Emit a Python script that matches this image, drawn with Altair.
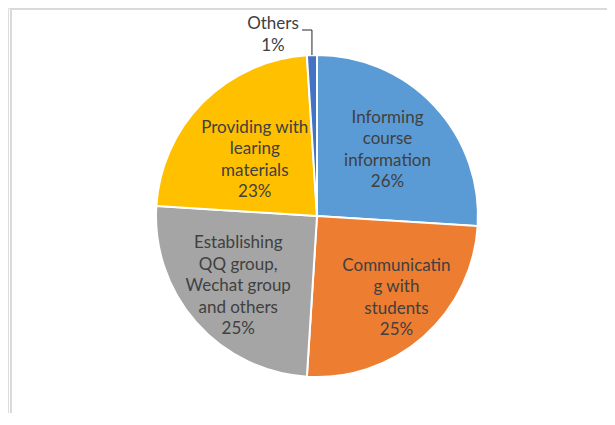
import math
import altair as alt
import pandas as pd

categories = [
    "Informing course information",
    "Communicating with students",
    "Establishing QQ group, Wechat group and others",
    "Providing with learing materials",
    "Others",
]
labels = [
    "Informing\ncourse\ninformation\n26%",
    "Communicatin\ng with\nstudents\n25%",
    "Establishing\nQQ group,\nWechat group\nand others\n25%",
    "Providing with\nlearing\nmaterials\n23%",
    "Others\n1%",
]
values = [26, 25, 25, 23, 1]
colors = ["#5B9BD5", "#ED7D31", "#A5A5A5", "#FFC000", "#4472C4"]

df = pd.DataFrame({
    "category": categories,
    "label": labels,
    "value": values,
    "order": list(range(len(values))),
})

W, H = 599, 405
CX, CY, R = 309, 208, 161
LH = 21.5
FS = 17

base = alt.Chart(df).encode(
    theta=alt.Theta("value:Q", stack=True),
    order=alt.Order("order:Q"),
    x=alt.value(CX),
    y=alt.value(CY),
)

pie = base.mark_arc(radius=R, stroke="white", strokeWidth=2).encode(
    color=alt.Color("category:N", scale=alt.Scale(domain=categories, range=colors), legend=None)
)

text_style = dict(font="Lato", fontSize=FS, color="#404040", lineBreak="\n", lineHeight=LH,
                  align="center", baseline="middle")


def slice_label(cat, radius, nlines, dx=0, dy=0):
    return base.mark_text(radius=radius, dx=dx, dy=dy - (nlines - 1) * LH / 2, **text_style).encode(
        text=alt.condition(alt.FieldEqualPredicate(field="category", equal=cat),
                           "label:N", alt.value(""))
    )


lab_inf = slice_label(categories[0], 105, 4, dx=-6, dy=6)
lab_com = slice_label(categories[1], 105, 4, dx=10, dy=3)
lab_est = slice_label(categories[2], 105, 5, dy=1)
lab_prov = slice_label(categories[3], 88, 4, dy=6)

# Others label placed outside, with leader line to slice middle
total = sum(values)
mid = (sum(values[:4]) + values[4] / 2) / total * 2 * math.pi
ax = CX + R * math.sin(mid)
ay = CY - R * math.cos(mid)
lx, ly = 265, 16
others_df = df[df["category"] == "Others"]
lab_others = alt.Chart(others_df).mark_text(**text_style).encode(
    text="label:N", x=alt.value(lx), y=alt.value(ly)
)
leader = pd.DataFrame({"px": [lx + 29, ax, ax], "py": [ly + 6, ly + 6, ay], "i": [0, 1, 2]})
leader_line = alt.Chart(leader).mark_line(color="#262626", strokeWidth=1).encode(
    x=alt.X("px:Q", scale=None), y=alt.Y("py:Q", scale=None), order="i:Q"
)

frame_top = alt.Chart(df).mark_rule(color="#D9D9D9", strokeWidth=1.5).encode(
    x=alt.value(3), x2=alt.value(W), y=alt.value(0.75)
)
frame_left = alt.Chart(df).mark_rule(color="#D9D9D9", strokeWidth=1.5).encode(
    x=alt.value(3), y=alt.value(0), y2=alt.value(H)
)

chart = alt.layer(frame_top, frame_left, pie, lab_inf, lab_com, lab_est, lab_prov, lab_others, leader_line).properties(
    width=W, height=H, padding=0, autosize=alt.AutoSizeParams(type="none")
).configure_view(stroke=None).configure(background="white")

chart.save("out.html", embed_options={"renderer": "svg", "actions": False})
